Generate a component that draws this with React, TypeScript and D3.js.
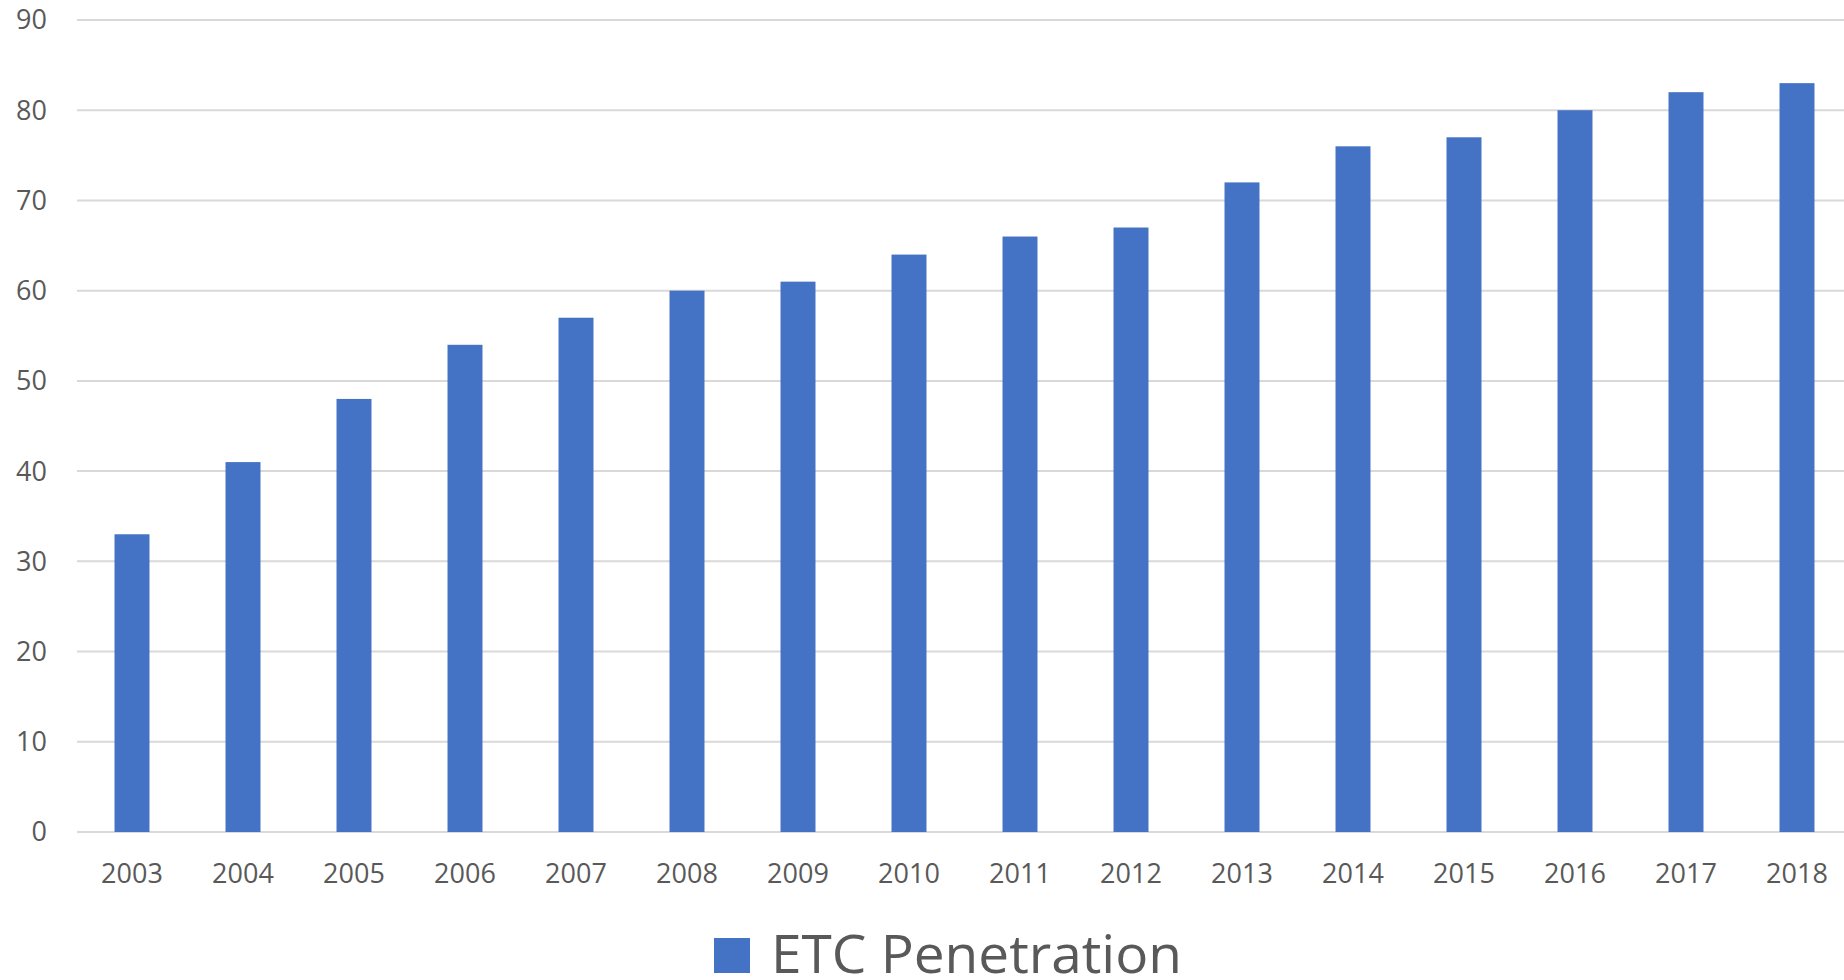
import React, { useEffect, useRef } from 'react';
import * as d3 from 'd3';

const years = ['2003', '2004', '2005', '2006', '2007', '2008', '2009', '2010', '2011', '2012', '2013', '2014', '2015', '2016', '2017', '2018'];
const penetration = [33, 41, 48, 54, 57, 60, 61, 64, 66, 67, 72, 76, 77, 80, 82, 83];
const yTicks = [0, 10, 20, 30, 40, 50, 60, 70, 80, 90];
const seriesName = 'ETC Penetration';

const W = 1844;
const H = 980;
const FONT = '"Open Sans", "Noto Sans", sans-serif';

function App() {
  const ref = useRef<SVGSVGElement>(null);

  useEffect(() => {
    const svg = d3.select(ref.current);
    svg.selectAll('*').remove();

    const left = 76.5;
    const step = 111;
    const x = d3.scaleBand().domain(years).range([left, left + step * years.length]).paddingInner(0.685).paddingOuter(0.3425);
    const y = d3.scaleLinear().domain([0, 90]).range([832, 20]);

    // grid
    svg.append('g').selectAll('line').data(yTicks).enter().append('line')
      .attr('x1', 77).attr('x2', W)
      .attr('y1', d => y(d)).attr('y2', d => y(d))
      .attr('stroke', '#d9d9d9').attr('stroke-width', 2);

    // y labels
    svg.append('g').selectAll('text').data(yTicks).enter().append('text')
      .attr('x', 47).attr('y', d => y(d))
      .attr('dy', '0.35em')
      .attr('text-anchor', 'end')
      .style('font-family', FONT).style('font-size', '27px').attr('fill', '#595959')
      .text(d => d);

    // bars
    svg.append('g').selectAll('rect').data(years).enter().append('rect')
      .attr('x', d => x(d)!)
      .attr('width', x.bandwidth())
      .attr('y', (d, i) => y(penetration[i]))
      .attr('height', (d, i) => y(0) - y(penetration[i]))
      .attr('fill', '#4472C4');

    // x labels
    svg.append('g').selectAll('text').data(years).enter().append('text')
      .attr('x', d => x(d)! + x.bandwidth() / 2).attr('y', 883)
      .attr('text-anchor', 'middle')
      .style('font-family', FONT).style('font-size', '27px').attr('fill', '#595959')
      .text(d => d);

    // legend
    const lg = svg.append('g');
    lg.append('rect').attr('x', 714).attr('y', 938).attr('width', 36).attr('height', 35).attr('fill', '#4472C4');
    lg.append('text').attr('x', 771).attr('y', 973)
      .style('font-family', FONT).style('font-size', '53px').attr('fill', '#595959')
      .attr('textLength', 411).attr('lengthAdjust', 'spacingAndGlyphs')
      .text(seriesName);
  }, []);

  return (
    <svg ref={ref} width={W} height={H}
      style={{ position: 'absolute', left: 0, top: 0, background: '#fff', display: 'block' }} />
  );
}

export default App;
